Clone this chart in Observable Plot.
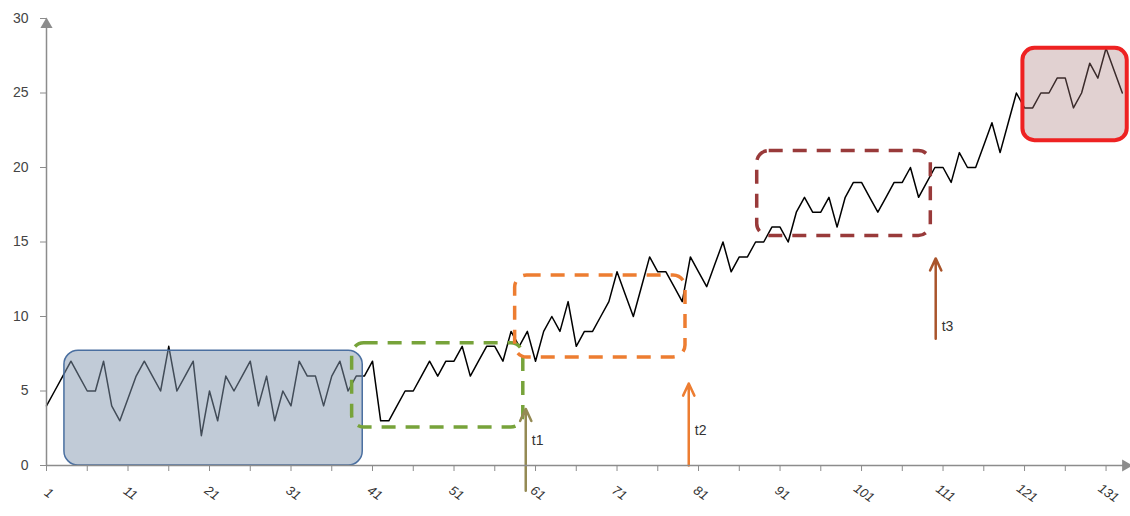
<!DOCTYPE html>
<html><head><meta charset="utf-8">
<script src="https://cdn.jsdelivr.net/npm/d3@7"></script>
<script src="https://cdn.jsdelivr.net/npm/@observablehq/plot@0.6"></script>
<style>body{margin:0;background:#fff;} svg{display:block;}</style>
</head><body><div id="chart"></div>
<script>
// series values, one per category 1..133
const values = [4,5,6,7,6,5,5,7,4,3, 4.5,6,7,6,5,8,5,6,7,2, 5,3,6,5,6,7,4,6,3,5,
  4,7,6,6,4,6,7,5,6,6, 7,3,3,4,5,5,6,7,6,7, 7,8,6,7,8,8,7,9,8,9,
  7,9,10,9,11,8,9,9,10,11, 13,11.5,10,12,14,13,13,12,11,14, 13,12,13.5,15,13,14,14,15,15,16,
  16,15,17,18,17,17,18,16,18,19, 19,18,17,18,19,19,20,18,19,20, 20,19,21,20,20,21.5,23,21,23,25,
  24,24,25,25,26,26,24,25,27,26, 28,26.5,25];
const categories = values.map((d, i) => i + 1);
const xTicks = d3.range(1, 132, 5);
const xLabels = d3.range(1, 132, 10);
const yTicks = [0, 5, 10, 15, 20, 25, 30];

// highlighted regions (data units)
const blueBox = [{x1: 3.2, x2: 39.8, y1: 0, y2: 7.7}];
const greenBox = [{x1: 38.5, x2: 59.5, y1: 2.55, y2: 8.2}];
const orangeBox = [{x1: 58.5, x2: 79.4, y1: 7.25, y2: 12.75}];
const darkRedBox = [{x1: 88.2, x2: 109.5, y1: 15.4, y2: 21.1}];
const redBox = [{x1: 120.8, x2: 133.6, y1: 21.8, y2: 28.0}];

// change-point markers
const t1 = [{label: "t1", x: 59.8, y1: -1.7, y2: 3.8, ly: 1.7}];
const t2 = [{label: "t2", x: 79.8, y1: 0, y2: 5.5, ly: 2.35}];
const t3 = [{label: "t3", x: 110.1, y1: 8.5, y2: 13.9, ly: 9.3}];

const table = categories.map((c, i) => ({c, v: values[i]}));
const dashed = (data, color) => Plot.rect(data, {x1: "x1", x2: "x2", y1: "y1", y2: "y2", fill: "none", stroke: color, strokeWidth: 3.5, strokeDasharray: "14,10", rx: 12});
const marker = (data, color) => [
  Plot.arrow(data, {x1: "x", x2: "x", y1: "y1", y2: "y2", stroke: color, strokeWidth: 2.5, headLength: 8, headAngle: 50}),
  Plot.text(data, {x: "x", y: "ly", text: "label", dx: 6, textAnchor: "start", fill: "#333", fontSize: 14})
];

const chart = Plot.plot({
  width: 1130, height: 516,
  marginLeft: 46, marginRight: 0, marginTop: 18, marginBottom: 51,
  style: {fontFamily: "Liberation Sans, Arial, sans-serif", fontSize: "13px", background: "#fff"},
  x: {domain: [1, 134]},
  y: {domain: [0, 30]},
  marks: [
    Plot.line(table, {x: "c", y: "v", stroke: "#000", strokeWidth: 1.5}),
    Plot.rect(blueBox, {x1: "x1", x2: "x2", y1: "y1", y2: "y2", fill: "#8497b0", fillOpacity: 0.5, stroke: "#4a6fa0", strokeWidth: 1.5, rx: 14}),
    Plot.rect(redBox, {x1: "x1", x2: "x2", y1: "y1", y2: "y2", fill: "#a97a7a", fillOpacity: 0.35, stroke: "#ee2222", strokeWidth: 4, rx: 12}),
    dashed(greenBox, "#77a33a"),
    dashed(orangeBox, "#ed7d31"),
    dashed(darkRedBox, "#993a3a"),
    ...marker(t1, "#948a54"),
    ...marker(t2, "#ed7d31"),
    ...marker(t3, "#a9542b"),
    // axes
    Plot.ruleX([1], {y1: 0, y2: 29.6, stroke: "#8c8c8c", strokeWidth: 1.5}),
    Plot.ruleY([0], {x1: 1, x2: 133.4, stroke: "#8c8c8c", strokeWidth: 1.5}),
    Plot.dot([1], {x: d => d, y: () => 29.6, symbol: "triangle", r: 4.5, fill: "#8c8c8c", stroke: "none"}),
    Plot.dot([133.4], {x: d => d, y: () => 0, symbol: "triangle", rotate: 90, r: 4.5, fill: "#8c8c8c", stroke: "none"}),
    Plot.axisY({ticks: yTicks, tickSize: 6, tickPadding: 12, stroke: "#8c8c8c", fill: "#444", fontSize: 14}),
    Plot.axisX({ticks: xTicks, tickSize: 6, tickFormat: () => "", stroke: "#8c8c8c"}),
    Plot.text(xLabels, {x: d => d, frameAnchor: "bottom", dy: 31, rotate: 35, text: d => String(d), fill: "#333", fontSize: 13, fontStyle: "italic"})
  ]
});
document.getElementById("chart").append(chart);
</script>
</body></html>
